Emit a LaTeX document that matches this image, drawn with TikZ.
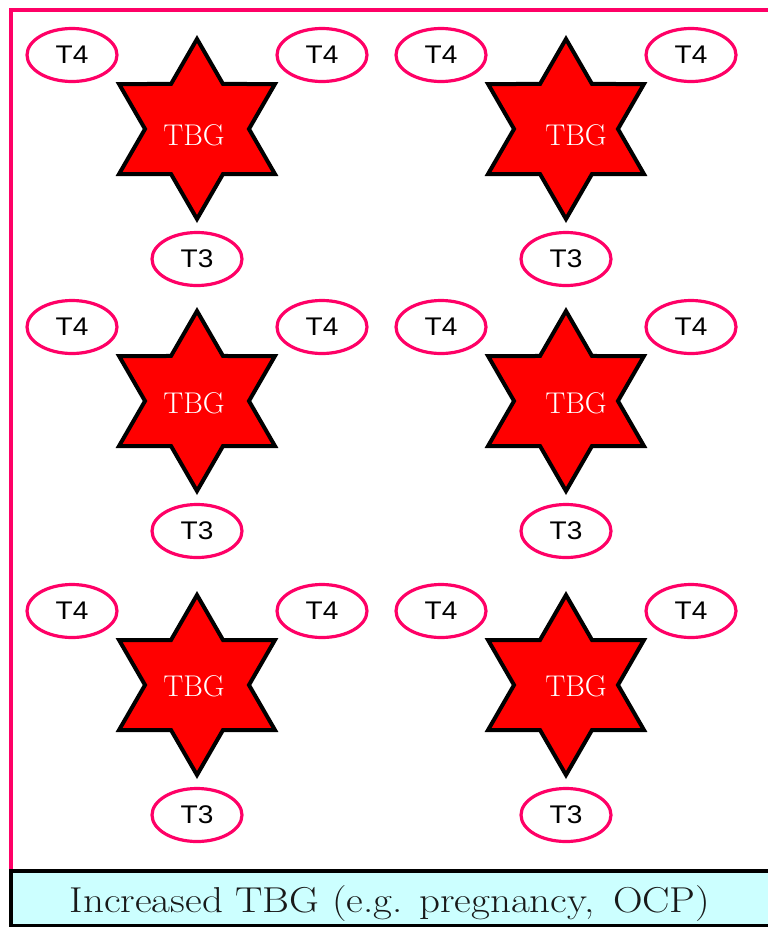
\documentclass[tikz,border=0pt]{standalone}
\usepackage{fontspec}
\usepackage{graphicx}
\usetikzlibrary{shapes.geometric}
\newfontfamily\hormfont[FakeStretch=1.1]{Liberation Sans}
\definecolor{framepink}{RGB}{255,0,102}
\definecolor{notecyan}{RGB}{204,255,255}
\tikzset{
  tbgstar/.style={star, star points=6, star point ratio=1.732,
    minimum size=180pt, inner sep=0pt, draw=black, fill=red,
    line width=4pt, line join=miter},
  tbgtext/.style={inner sep=0pt, text=white, anchor=base,
    font=\fontsize{30}{30}\selectfont},
  hormone/.style={ellipse, draw=framepink, line width=3.2pt, fill=white,
    minimum width=90pt, minimum height=53pt, inner sep=0pt,
    font=\hormfont\fontsize{25.5}{25.5}\selectfont},
  notetext/.style={inner sep=0pt, anchor=base, text=black!90,
    font=\fontsize{36}{36}\selectfont}
}
\begin{document}
\begin{tikzpicture}[x=1pt,y=-1pt]
\useasboundingbox (0,0) rectangle (768,927);
\clip (0,0) rectangle (768,927);
\fill[white] (0,0) rectangle (768,927);
% outer frame
\draw[framepink, line width=4pt] (11,871) -- (11,10) -- (800,10);
% binding protein with its hormones, two columns by three rows
\foreach \c/\cx/\dx in {1/197/-3, 2/566/10} {
  \foreach \r/\cy/\ty in {1/129/145, 2/401/413, 3/685/696} {
    \node[tbgstar] (s\r\c) at (\cx,\cy) {};
    \node[tbgtext] (t\r\c) at (\cx+\dx,\ty) {TBG};
    \node[hormone] (a\r\c) at (\cx-125,\cy-74) {T4};
    \node[hormone] (b\r\c) at (\cx+125,\cy-74) {T4};
    \node[hormone] (c\r\c) at (\cx,\cy+130) {T3};
  }
}
% caption bar
\draw[black, line width=4pt, fill=notecyan] (11,871) rectangle (800,926);
\node[notetext] (note) at (390,912)
  {\scalebox{1.14}[1]{Increased TBG (e.g. pregnancy,\hspace{0.15em} OCP)}};
\end{tikzpicture}
\end{document}
